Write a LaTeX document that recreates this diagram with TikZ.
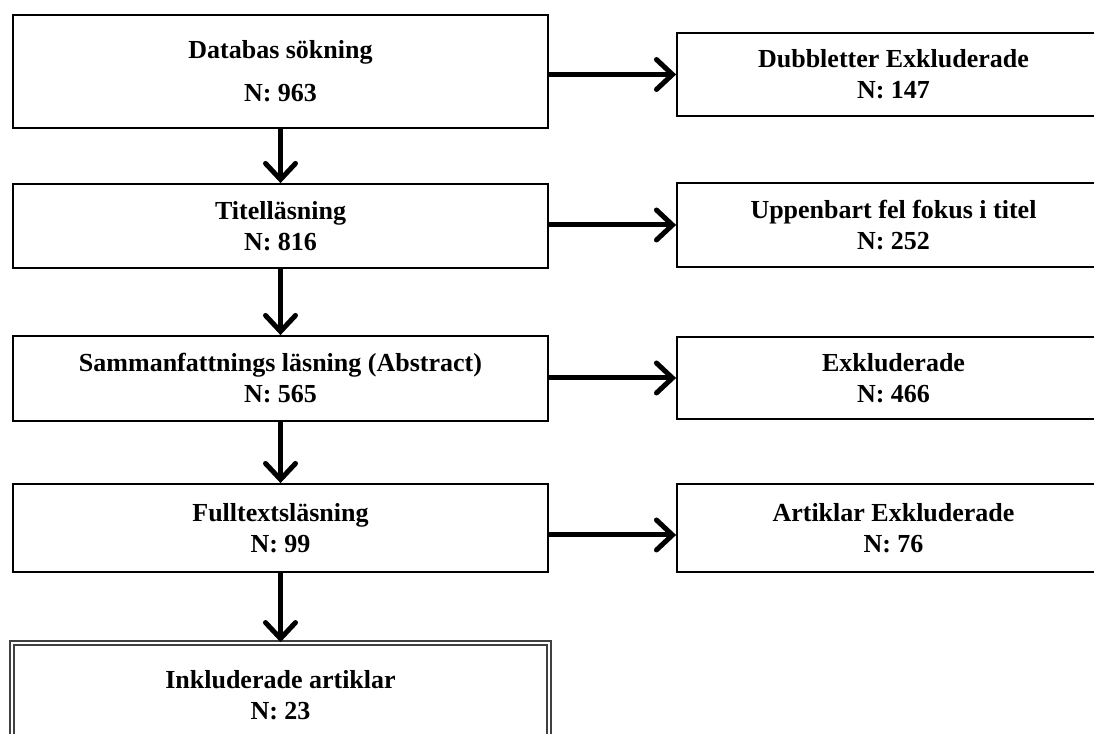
\documentclass[tikz,border=0pt]{standalone}
\usepackage{fontspec}
\setmainfont{Liberation Serif}
\usetikzlibrary{arrows.meta}
\begin{document}
\begin{tikzpicture}[x=1pt,y=1pt,
  box/.style={draw=black, line width=1.8pt, fill=white, align=center, inner sep=0pt,
    font=\fontsize{26}{31}\selectfont\bfseries},
  finalbox/.style={box, draw=black!75, double=white, double distance=2.5pt, line width=1.6pt},
  flow/.style={line width=5pt, -{Straight Barb[length=16pt,width=30pt,line cap=round]}}
]
\useasboundingbox (0,0) rectangle (1094,733);
% left column
\node[box, minimum width=535pt, minimum height=113pt] (b1) at (280.5,661.5) {Databas sökning\\[12pt] N: 963};
\node[box, minimum width=535pt, minimum height=84pt] (b2) at (280.5,507) {Titelläsning\\ N: 816};
\node[box, minimum width=535pt, minimum height=85pt] (b3) at (280.5,354.5) {Sammanfattnings läsning (Abstract)\\ N: 565};
\node[box, minimum width=535pt, minimum height=88pt] (b4) at (280.5,205) {Fulltextsläsning\\ N: 99};
\node[finalbox, minimum width=537pt, minimum height=104pt] (b5) at (280.5,38) {Inkluderade artiklar\\ N: 23};
% right column
\node[box, minimum width=433pt, minimum height=83pt] (r1) at (893.5,658.5) {Dubbletter Exkluderade\\ N: 147};
\node[box, minimum width=433pt, minimum height=84pt] (r2) at (893.5,508) {Uppenbart fel fokus i titel\\ N: 252};
\node[box, minimum width=433pt, minimum height=82pt] (r3) at (893.5,355) {Exkluderade\\ N: 466};
\node[box, minimum width=433pt, minimum height=88pt] (r4) at (893.5,205) {Artiklar Exkluderade\\ N: 76};
% vertical arrows
\draw[flow] (b1.south) -- (b2.north);
\draw[flow] (b2.south) -- (b3.north);
\draw[flow] (b3.south) -- (b4.north);
\draw[flow] (b4.south) -- (b5.north);
% horizontal arrows
\draw[flow] (b1.east |- r1.west) -- (r1.west);
\draw[flow] (b2.east |- r2.west) -- (r2.west);
\draw[flow] (b3.east |- r3.west) -- (r3.west);
\draw[flow] ([yshift=-7pt]b4.east) -- ([yshift=-7pt]r4.west);
\end{tikzpicture}
\end{document}
